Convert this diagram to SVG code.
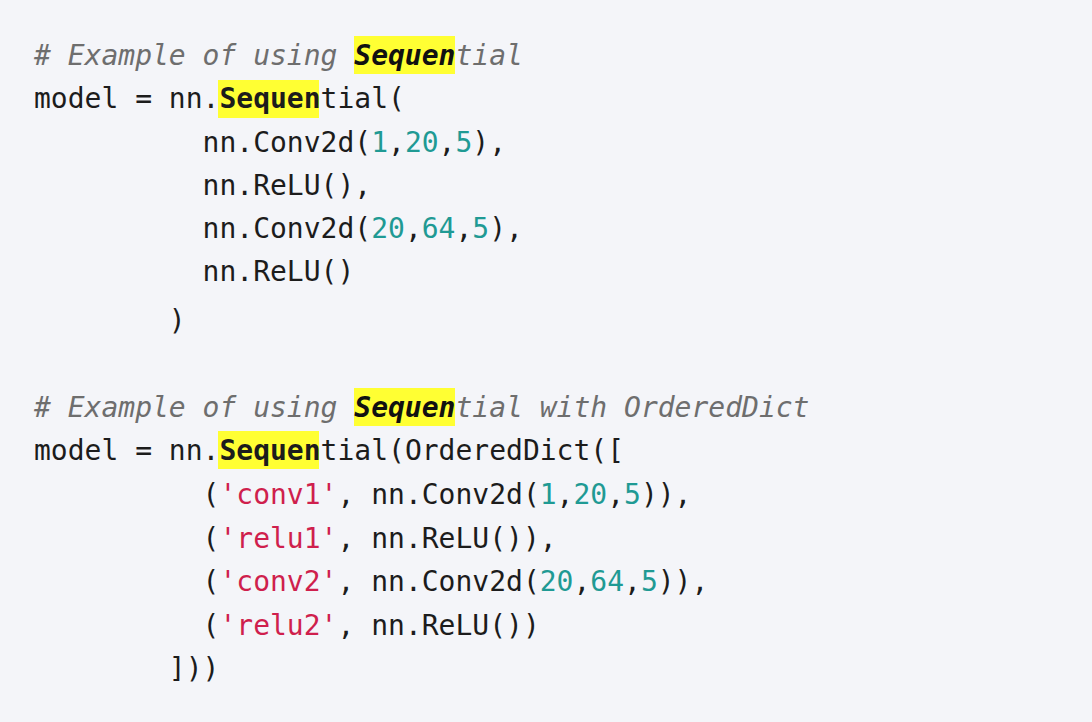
<svg xmlns="http://www.w3.org/2000/svg" width="1092" height="722" viewBox="0 0 1092 722">
<style>
text{font-family:"DejaVu Sans Mono","Liberation Mono",monospace;font-size:28px;fill:#1c1c1c;white-space:pre}
.c{fill:#6e6e6e;font-style:italic}
.n{fill:#1f9a94}
.s{fill:#cf1f4d}
.h{fill:#ffff33}
</style>
<rect width="1092" height="722" fill="#f4f5f9"/>
<g id="block1">
<rect class="h" x="354" y="36" width="101" height="38"/>
<rect class="h" x="218" y="80" width="101" height="38"/>
<text xml:space="preserve" x="34" y="65" class="c"># Example of using <tspan fill="#111" font-weight="bold">Sequen</tspan>tial</text>
<text xml:space="preserve" x="34" y="108">model = nn.<tspan font-weight="bold">Sequen</tspan>tial(</text>
<text xml:space="preserve" x="34" y="152">          nn.Conv2d(<tspan class="n">1</tspan>,<tspan class="n">20</tspan>,<tspan class="n">5</tspan>),</text>
<text xml:space="preserve" x="34" y="195">          nn.ReLU(),</text>
<text xml:space="preserve" x="34" y="238">          nn.Conv2d(<tspan class="n">20</tspan>,<tspan class="n">64</tspan>,<tspan class="n">5</tspan>),</text>
<text xml:space="preserve" x="34" y="281">          nn.ReLU()</text>
<text xml:space="preserve" x="34" y="330">        )</text>
</g>
<g id="block2">
<rect class="h" x="354" y="388" width="101" height="38"/>
<rect class="h" x="218" y="431" width="101" height="38"/>
<text xml:space="preserve" x="34" y="417" class="c"># Example of using <tspan fill="#111" font-weight="bold">Sequen</tspan>tial with OrderedDict</text>
<text xml:space="preserve" x="34" y="460">model = nn.<tspan font-weight="bold">Sequen</tspan>tial(OrderedDict([</text>
<text xml:space="preserve" x="34" y="504">          (<tspan class="s">'conv1'</tspan>, nn.Conv2d(<tspan class="n">1</tspan>,<tspan class="n">20</tspan>,<tspan class="n">5</tspan>)),</text>
<text xml:space="preserve" x="34" y="548">          (<tspan class="s">'relu1'</tspan>, nn.ReLU()),</text>
<text xml:space="preserve" x="34" y="591">          (<tspan class="s">'conv2'</tspan>, nn.Conv2d(<tspan class="n">20</tspan>,<tspan class="n">64</tspan>,<tspan class="n">5</tspan>)),</text>
<text xml:space="preserve" x="34" y="635">          (<tspan class="s">'relu2'</tspan>, nn.ReLU())</text>
<text xml:space="preserve" x="34" y="678">        ]))</text>
</g>
</svg>
